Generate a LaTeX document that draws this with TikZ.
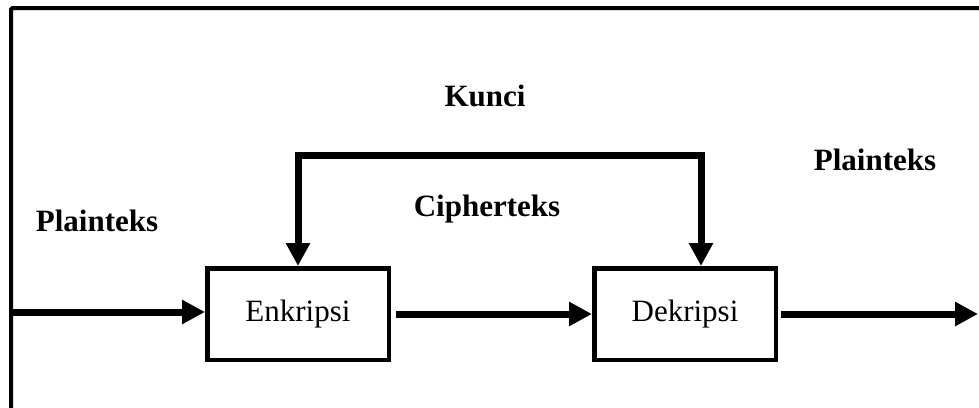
\documentclass[tikz,border=0pt]{standalone}
\usepackage{fontspec}
\setmainfont{Liberation Serif}
\usetikzlibrary{arrows.meta,positioning}

\begin{document}
\begin{tikzpicture}[x=1pt,y=-1pt,
    font=\fontsize{31}{37}\selectfont,
    box/.style={draw,line width=4.5pt,minimum width=181.5pt,minimum height=91.5pt,inner sep=0pt},
    flow/.style={line width=7pt,-{Triangle[length=23pt,width=23pt]}},
    lbl/.style={anchor=base,font=\fontsize{31}{37}\selectfont\bfseries}]

\useasboundingbox (0,0) rectangle (979,407);

% Outer frame
\draw[line width=4pt,rounded corners=1.5pt] (11,430) -- (11,8) -- (995,8);

% Encryption block
\node[box] (block1) at (298,314) {Enkripsi};

% Decryption block
\node[box,right=201pt of block1] (block2) {Dekripsi};

% Loose ends of the data path and the key line
\coordinate (in) at (11,312);
\coordinate (out) at (978,314);
\coordinate (key) at (490,155);

% Labels
\node[lbl] (kunci) at (485,106) {Kunci};
\node[lbl] (cipher) at (487,216) {Cipherteks};
\node[lbl] (plainin) at (97,231) {Plainteks};
\node[lbl] (plainout) at (875,170) {Plainteks};

% Arrows
\draw[flow] (in) -- (in -| block1.west);
\draw[flow,shorten <=5pt] (block1.east) -- (block2.west);
\draw[flow,shorten <=3pt] (block2.east) -- (out);

\draw[line width=7pt,{Triangle[length=23pt,width=23pt]}-{Triangle[length=23pt,width=23pt]}]
    (block1.north) -- (block1.north |- key) -| ([xshift=16pt]block2.north);

\end{tikzpicture}
\end{document}
